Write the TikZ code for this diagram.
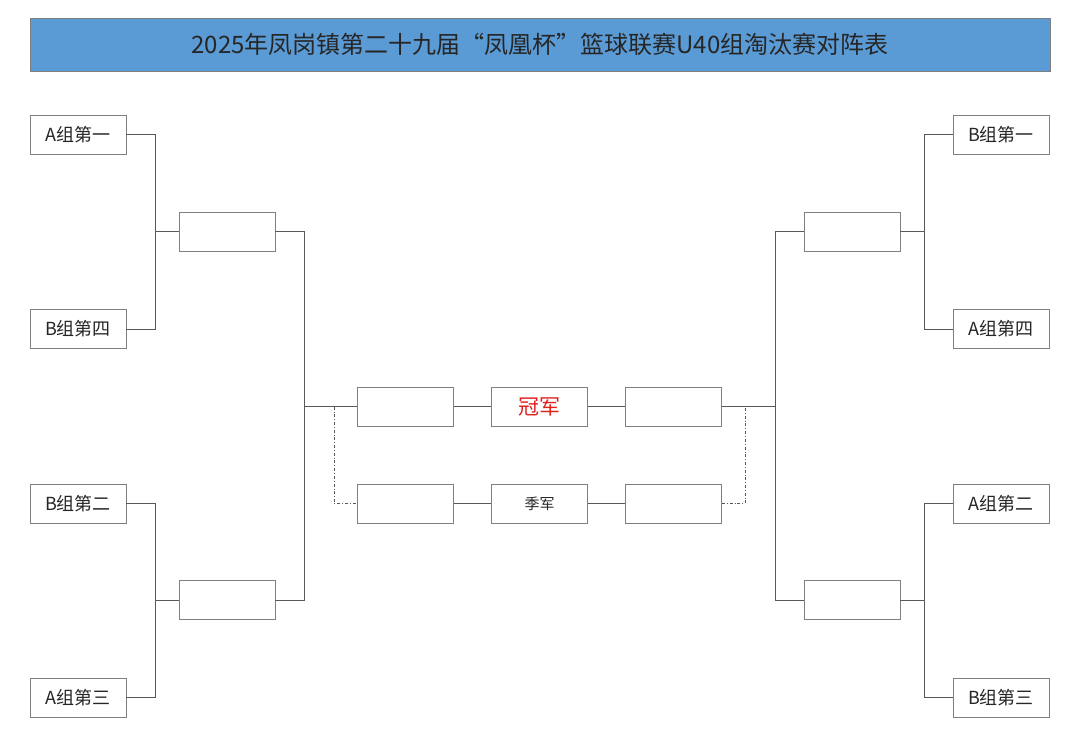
\documentclass[tikz,border=0pt]{standalone}
\usepackage{fontspec}
\setmainfont{Noto Sans CJK SC}
\usepackage{xcolor}
\usetikzlibrary{calc}
\definecolor{titleblue}{HTML}{5B9BD5}
\definecolor{boxgray}{HTML}{7F7F7F}
\definecolor{linegray}{HTML}{595959}
\definecolor{champred}{HTML}{E0201B}

\tikzset{
  teambox/.style={draw=boxgray, line width=0.9pt, fill=white, minimum width=96pt, minimum height=39pt, inner sep=0pt, font=\fontsize{18}{18}\selectfont, text=black!85},
  link/.style={draw=linegray, line width=0.8pt},
  dashlink/.style={draw=linegray, line width=0.7pt, dash dot}
}

\begin{document}
\begin{tikzpicture}[x=1pt, y=-1pt]
  \useasboundingbox[fill=white] (0,0) rectangle (1080,737);

  % Title
  \node[draw=boxgray, fill=titleblue, line width=1pt, minimum width=1020pt, minimum height=53pt, inner sep=0pt, font=\fontsize{24}{24}\selectfont, text=black!85] (title) at (540,44.5) {2025年凤岗镇第二十九届“凤凰杯”篮球联赛U40组淘汰赛对阵表};

  % Left half
  \node[teambox] (a1) at (78,134.5) {A组第一};
  \node[teambox] (b4) at (78,329) {B组第四};
  \node[teambox] (b2) at (78,503.5) {B组第二};
  \node[teambox] (a3) at (78,697.5) {A组第三};
  \node[teambox] (lq1) at (227,231.5) {};
  \node[teambox] (lq2) at (227,600) {};
  \coordinate (jl1) at (155,231.5);
  \coordinate (jl2) at (155,600);
  \coordinate (jl3) at (304,406.5);

  % Right half
  \node[teambox] (b1) at (1001,134.5) {B组第一};
  \node[teambox] (a4) at (1001,329) {A组第四};
  \node[teambox] (a2) at (1001,503.5) {A组第二};
  \node[teambox] (b3) at (1001,697.5) {B组第三};
  \node[teambox] (rq1) at (852,231.5) {};
  \node[teambox] (rq2) at (852,600) {};
  \coordinate (jr1) at (924,231.5);
  \coordinate (jr2) at (924,600);
  \coordinate (jr3) at (775,406.5);

  % Final and third place
  \node[teambox] (ls) at (405.5,406.5) {};
  \node[teambox, font=\fontsize{21}{21}\selectfont, text=champred] (champ) at (539.5,406.5) {冠军};
  \node[teambox] (rs) at (673.5,406.5) {};
  \node[teambox] (lt) at (405.5,503.5) {};
  \node[teambox, font=\fontsize{15}{15}\selectfont] (third) at (539.5,503.5) {季军};
  \node[teambox] (rt) at (673.5,503.5) {};
  \coordinate (dl) at (334,406.5);
  \coordinate (dr) at (745,406.5);

  % Brackets left
  \draw[link] (a1.east) -| (jl1) |- (lq1.west);
  \draw[link] (b4.east) -| (jl1);
  \draw[link] (b2.east) -| (jl2) |- (lq2.west);
  \draw[link] (a3.east) -| (jl2);
  \draw[link] (lq1.east) -| (jl3);
  \draw[link] (lq2.east) -| (jl3);
  \draw[link] (jl3) -- (ls.west);

  % Brackets right
  \draw[link] (b1.west) -| (jr1) |- (rq1.east);
  \draw[link] (a4.west) -| (jr1);
  \draw[link] (a2.west) -| (jr2) |- (rq2.east);
  \draw[link] (b3.west) -| (jr2);
  \draw[link] (rq1.west) -| (jr3);
  \draw[link] (rq2.west) -| (jr3);
  \draw[link] (jr3) -- (rs.east);

  % Middle
  \draw[link] (ls.east) -- (champ.west);
  \draw[link] (champ.east) -- (rs.west);
  \draw[link] (lt.east) -- (third.west);
  \draw[link] (third.east) -- (rt.west);
  \draw[dashlink] (dl) |- (lt.west);
  \draw[dashlink] (rt.east) -| (dr);

\end{tikzpicture}
\end{document}
